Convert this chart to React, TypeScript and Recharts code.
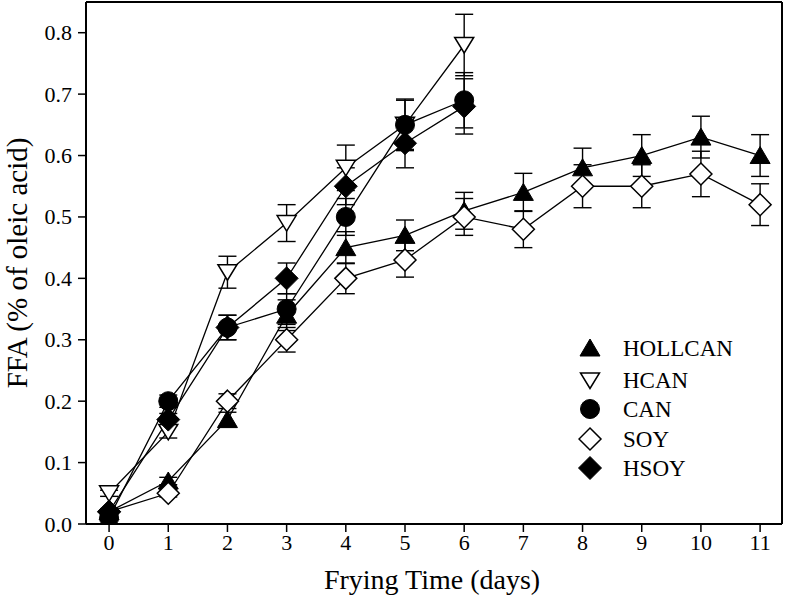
import React from 'react';
import { ComposedChart, Line, XAxis, YAxis, ErrorBar, Legend } from 'recharts';

const days = [0, 1, 2, 3, 4, 5, 6, 7, 8, 9, 10, 11];
const yTicks = [0, 0.1, 0.2, 0.3, 0.4, 0.5, 0.6, 0.7, 0.8];

const hollcanValues = [0.02, 0.07, 0.17, 0.34, 0.45, 0.47, 0.51, 0.54, 0.58, 0.6, 0.63, 0.6];
const hollcanErrors = [0.005, 0.006, 0.012, 0.025, 0.026, 0.025, 0.03, 0.031, 0.032, 0.034, 0.034, 0.034];

const hcanValues = [0.05, 0.15, 0.41, 0.49, 0.58, 0.65, 0.78];
const hcanErrors = [0.005, 0.01, 0.026, 0.03, 0.037, 0.04, 0.05];

const canValues = [0.01, 0.2, 0.32, 0.35, 0.5, 0.65, 0.69];
const canErrors = [0.004, 0.01, 0.02, 0.025, 0.03, 0.042, 0.045];

const soyValues = [0.02, 0.05, 0.2, 0.3, 0.4, 0.43, 0.5, 0.48, 0.55, 0.55, 0.57, 0.52];
const soyErrors = [0.004, 0.006, 0.012, 0.02, 0.025, 0.028, 0.03, 0.03, 0.035, 0.035, 0.037, 0.034];

const hsoyValues = [0.02, 0.17, 0.32, 0.4, 0.55, 0.62, 0.68];
const hsoyErrors = [0.004, 0.01, 0.02, 0.025, 0.03, 0.04, 0.045];

const FONT = "'Liberation Serif', 'Times New Roman', Times, serif";

type Kind = 'triUp' | 'triDown' | 'circle' | 'diamondOpen' | 'diamondFilled';

function Marker({ cx, cy, kind }: { cx: number; cy: number; kind: Kind }) {
  if (cx == null || cy == null || isNaN(cx) || isNaN(cy)) return null;
  switch (kind) {
    case 'triUp':
      return (
        <polygon
          points={`${cx},${cy - 9} ${cx + 10},${cy + 8} ${cx - 10},${cy + 8}`}
          fill="#000"
          stroke="#000"
          strokeWidth={1}
        />
      );
    case 'triDown':
      return (
        <polygon
          points={`${cx - 9.5},${cy - 7.5} ${cx + 9.5},${cy - 7.5} ${cx},${cy + 8}`}
          fill="#fff"
          stroke="#000"
          strokeWidth={1.5}
        />
      );
    case 'circle':
      return <circle cx={cx} cy={cy} r={9.5} fill="#000" stroke="#000" strokeWidth={1} />;
    case 'diamondOpen':
      return (
        <polygon
          points={`${cx},${cy - 11} ${cx + 11},${cy} ${cx},${cy + 11} ${cx - 11},${cy}`}
          fill="#fff"
          stroke="#000"
          strokeWidth={1.5}
        />
      );
    case 'diamondFilled':
      return (
        <polygon
          points={`${cx},${cy - 11.5} ${cx + 11.5},${cy} ${cx},${cy + 11.5} ${cx - 11.5},${cy}`}
          fill="#000"
          stroke="#000"
          strokeWidth={1}
        />
      );
  }
  return null;
}

const makeRows = (values: number[], errors: number[]) =>
  values.map((v, i) => ({ day: days[i], value: v, err: errors[i] }));

const series: { name: string; kind: Kind; data: { day: number; value: number; err: number }[] }[] = [
  { name: 'HOLLCAN', kind: 'triUp', data: makeRows(hollcanValues, hollcanErrors) },
  { name: 'HCAN', kind: 'triDown', data: makeRows(hcanValues, hcanErrors) },
  { name: 'CAN', kind: 'circle', data: makeRows(canValues, canErrors) },
  { name: 'SOY', kind: 'diamondOpen', data: makeRows(soyValues, soyErrors) },
  { name: 'HSOY', kind: 'diamondFilled', data: makeRows(hsoyValues, hsoyErrors) },
];

const legendRowCenters = [15, 47.5, 76, 106, 135];

const LegendBox = () => (
  <svg width={200} height={160} style={{ display: 'block', fontFamily: FONT }}>
    {series.map((s, i) => (
      <g key={s.name}>
        <Marker cx={12} cy={legendRowCenters[i]} kind={s.kind} />
        <text
          x={45}
          y={legendRowCenters[i] + 7.5}
          style={{ fontFamily: FONT, fontSize: 23 }}
          fill="#000"
        >
          {s.name}
        </text>
      </g>
    ))}
  </svg>
);

const XLabel = (props: any) => {
  const vb = props.viewBox || {};
  return (
    <text
      x={vb.x + vb.width / 2 - 2}
      y={vb.y + 65}
      textAnchor="middle"
      style={{ fontFamily: FONT, fontSize: 28 }}
      fill="#000"
    >
      Frying Time (days)
    </text>
  );
};

const YLabel = (props: any) => {
  const vb = props.viewBox || {};
  const cx = 27;
  const cy = vb.y + vb.height / 2;
  return (
    <text
      x={cx}
      y={cy}
      transform={`rotate(-90, ${cx}, ${cy})`}
      textAnchor="middle"
      style={{ fontFamily: FONT, fontSize: 29 }}
      fill="#000"
    >
      FFA (% of oleic acid)
    </text>
  );
};

const XTick = (props: any) => {
  const { x, y, payload } = props;
  return (
    <text
      x={x}
      y={y + 15}
      textAnchor="middle"
      style={{ fontFamily: FONT, fontSize: 22 }}
      fill="#000"
    >
      {payload.value}
    </text>
  );
};

const YTick = (props: any) => {
  const { x, y, payload } = props;
  return (
    <text
      x={x}
      y={y + 7.5}
      textAnchor="end"
      style={{ fontFamily: FONT, fontSize: 22 }}
      fill="#000"
    >
      {Number(payload.value).toFixed(1)}
    </text>
  );
};

export default function App() {
  return (
    <div
      style={{
        position: 'absolute',
        left: 0,
        top: 0,
        width: 786,
        height: 597,
        background: '#fff',
        fontFamily: FONT,
      }}
    >
      <ComposedChart
        width={786}
        height={597}
        margin={{ top: 1, right: 3, bottom: 0, left: 0 }}
        style={{ fontFamily: FONT }}
      >
        <XAxis
          dataKey="day"
          type="number"
          domain={[-0.39, 11.37]}
          ticks={days}
          interval={0}
          allowDataOverflow
          height={73}
          tickSize={8}
          tickMargin={3}
          tick={<XTick />}
          axisLine={{ stroke: '#000', strokeWidth: 2 }}
          tickLine={{ stroke: '#000', strokeWidth: 1.5 }}
          label={<XLabel />}
        />
        <YAxis
          type="number"
          domain={[0, 0.85]}
          ticks={yTicks}
          interval={0}
          allowDataOverflow
          width={86}
          tickSize={8}
          tickMargin={6}
          tick={<YTick />}
          axisLine={{ stroke: '#000', strokeWidth: 2 }}
          tickLine={{ stroke: '#000', strokeWidth: 1.5 }}
          label={<YLabel />}
        />
        <XAxis
          xAxisId="top"
          orientation="top"
          type="number"
          domain={[-0.39, 11.37]}
          height={1}
          tick={false}
          tickLine={false}
          axisLine={{ stroke: '#000', strokeWidth: 2 }}
        />
        <YAxis
          yAxisId="right"
          orientation="right"
          type="number"
          domain={[0, 0.85]}
          width={1}
          tick={false}
          tickLine={false}
          axisLine={{ stroke: '#000', strokeWidth: 2 }}
        />
        {series.map((s) => (
          <Line
            key={s.name}
            name={s.name}
            data={s.data}
            dataKey="value"
            type="linear"
            stroke="#000"
            strokeWidth={1.3}
            isAnimationActive={false}
            activeDot={false}
            dot={(p: any) => (
              <Marker key={`${s.name}-${p.index}`} cx={p.cx} cy={p.cy} kind={s.kind} />
            )}
          >
            <ErrorBar
              dataKey="err"
              direction="y"
              width={9}
              stroke="#000"
              strokeWidth={1.4}
              isAnimationActive={false}
            />
          </Line>
        ))}
        <Legend
          layout="vertical"
          align="center"
          verticalAlign="middle"
          content={() => <LegendBox />}
          wrapperStyle={{ left: 578, top: 333, width: 200, height: 160 }}
        />
      </ComposedChart>
    </div>
  );
}
